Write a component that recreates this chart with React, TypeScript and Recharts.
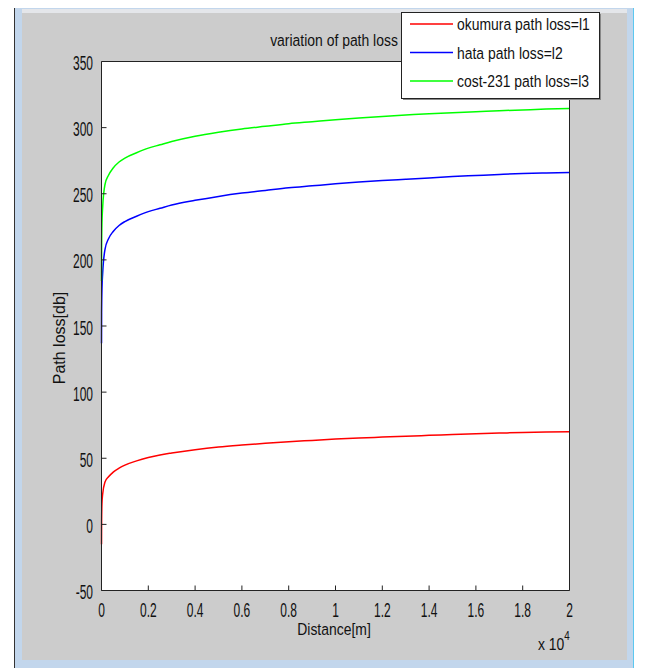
import React from 'react';
import { LineChart, Line, XAxis, YAxis, Legend } from 'recharts';

// distance in metres, path loss in dB
const distances = [1, 5, 20, 50, 150, 300, 500, 750, 1000, 1500, 2000, 2500, 3000, 4000, 5000, 6000, 7000, 8000, 9000, 10000, 11000, 12000, 13000, 14000, 15000, 16000, 17000, 18000, 19000, 20000];
const okumuraLoss = [-15, 2, 16, 23, 32, 36, 39.5, 42.5, 44.8, 48, 50.5, 52.5, 54, 56.5, 58.5, 60, 61.3, 62.5, 63.5, 64.5, 65.3, 66, 66.7, 67.3, 67.9, 68.5, 69, 69.5, 69.8, 70];
const hataLoss = [137, 160, 178, 190, 208, 216, 221.5, 226, 229, 233, 236.5, 239, 241.5, 245, 248, 250.5, 252.5, 254.5, 256, 257.5, 258.8, 260, 261, 262, 263, 263.8, 264.6, 265.3, 265.7, 266];
const costLoss = [184, 208, 228, 240, 257, 264, 269.5, 274, 277, 281, 284.5, 287, 289.5, 293.5, 296.5, 299, 301, 303, 304.5, 306, 307.3, 308.5, 309.5, 310.5, 311.3, 312, 312.8, 313.4, 314, 314.5];

const xTicks = [0, 2000, 4000, 6000, 8000, 10000, 12000, 14000, 16000, 18000, 20000];
const yTicks = [-50, 0, 50, 100, 150, 200, 250, 300, 350];

const series = [
  { key: 'okumura', name: 'okumura path loss=l1', color: '#ff0000' },
  { key: 'hata', name: 'hata path loss=l2', color: '#0000ff' },
  { key: 'cost', name: 'cost-231 path loss=l3', color: '#00ff00' },
];

const data = distances.map((d, i) => ({
  d,
  okumura: okumuraLoss[i],
  hata: hataLoss[i],
  cost: costLoss[i],
}));

const W = 656;
const H = 668;
const PL = 101.5;
const PB = 590.5;
const SANS = '"Liberation Sans", Arial, sans-serif';
const AXIS = '#222';
const INK = '#111';

// Arial squeezed horizontally to look like the narrow MATLAB font
const Narrow = ({ x, y, anchor = 'start', size = 17, sx = 0.82, children }: any) => (
  <text
    transform={`translate(${x},${y}) scale(${sx},1)`}
    textAnchor={anchor}
    fontFamily={SANS}
    fontSize={size}
    fill={INK}
  >
    {children}
  </text>
);

const YTick = (props: any) => (
  <Narrow x={PL - 8.5} y={props.y + 8.5} anchor="end" size={20} sx={0.6}>
    {props.payload.value}
  </Narrow>
);

const XTick = (props: any) => (
  <Narrow x={props.x} y={PB + 26} anchor="middle" size={20} sx={0.6}>
    {parseFloat((props.payload.value / 10000).toFixed(1))}
  </Narrow>
);

const LegendBox = () => (
  <svg width={201} height={89} style={{ display: 'block' }}>
    <rect x={0.5} y={0.5} width={198} height={86} fill="#fff" stroke="#222" />
    <line x1={199.5} y1={2} x2={199.5} y2={88} stroke="#888" />
    <line x1={2} y1={87.5} x2={199.5} y2={87.5} stroke="#888" />
    {series.map((s, i) => (
      <g key={s.key}>
        <line x1={9} x2={52} y1={12 + i * 28.5} y2={12 + i * 28.5} stroke={s.color} strokeWidth={1.5} />
        <Narrow x={56} y={18 + i * 28.5}>
          {s.name}
        </Narrow>
      </g>
    ))}
  </svg>
);

export default function App() {
  return (
    <div style={{ position: 'absolute', left: 0, top: 0, width: W, height: H, background: '#fff', overflow: 'hidden' }}>
      {/* window frame */}
      <div style={{ position: 'absolute', left: 14, top: 8, width: 1, height: H - 8, background: '#333' }} />
      <div style={{ position: 'absolute', left: 15, top: 8, width: 618, height: H - 8, background: '#c2d6ec' }} />
      <div style={{ position: 'absolute', left: 633, top: 8, width: 1, height: H - 8, background: '#5cc8f0' }} />
      <div style={{ position: 'absolute', left: 22, top: 9, width: 605, height: 4, background: '#e4e6ea' }} />
      <div style={{ position: 'absolute', left: 22, top: 13, width: 605, height: 647, background: '#cccccc' }} />
      <div style={{ position: 'absolute', left: 101, top: 61, width: 469, height: 530, background: '#fff' }} />

      <div style={{ position: 'absolute', left: 0, top: 0 }}>
        <LineChart width={W} height={H} data={data} margin={{ top: 41.5, right: 66.5, bottom: 47.5, left: 0 }}>
          <XAxis
            dataKey="d"
            type="number"
            domain={[0, 20000]}
            ticks={xTicks}
            height={30}
            tickSize={-5}
            tick={<XTick />}
            stroke={AXIS}
            interval={0}
          />
          <XAxis
            xAxisId="top"
            orientation="top"
            dataKey="d"
            type="number"
            domain={[0, 20000]}
            ticks={xTicks}
            height={20}
            tickSize={-5}
            tick={false}
            stroke={AXIS}
            interval={0}
          />
          <YAxis
            type="number"
            domain={[-50, 350]}
            ticks={yTicks}
            width={101.5}
            tickSize={-5}
            tick={<YTick />}
            stroke={AXIS}
            interval={0}
          />
          <YAxis
            yAxisId="right"
            orientation="right"
            type="number"
            domain={[-50, 350]}
            ticks={yTicks}
            width={20}
            tickSize={-5}
            tick={false}
            stroke={AXIS}
            interval={0}
          />
          {series.map((s) => (
            <Line
              key={s.key}
              type="monotone"
              dataKey={s.key}
              name={s.name}
              stroke={s.color}
              strokeWidth={1.5}
              dot={false}
              isAnimationActive={false}
            />
          ))}
          <Legend
            layout="horizontal"
            verticalAlign="middle"
            content={<LegendBox />}
            wrapperStyle={{ left: 401, top: 12, width: 201, height: 89 }}
          />
        </LineChart>
      </div>

      {/* titles and labels */}
      <svg width={W} height={H} style={{ position: 'absolute', left: 0, top: 0, pointerEvents: 'none' }}>
        <Narrow x={334} y={46} anchor="middle">
          variation of path loss
        </Narrow>
        <Narrow x={334} y={635} anchor="middle">
          Distance[m]
        </Narrow>
        <text transform="translate(538,650) scale(0.82,1)" fontFamily={SANS} fontSize={17} fill={INK}>
          x 10
          <tspan dy={-10} fontSize={12}>4</tspan>
        </text>
        <text
          transform="translate(65,338) rotate(-90)"
          textAnchor="middle"
          fontFamily={SANS}
          fontSize={16}
          fill={INK}
        >
          Path loss[db]
        </text>
      </svg>
    </div>
  );
}
